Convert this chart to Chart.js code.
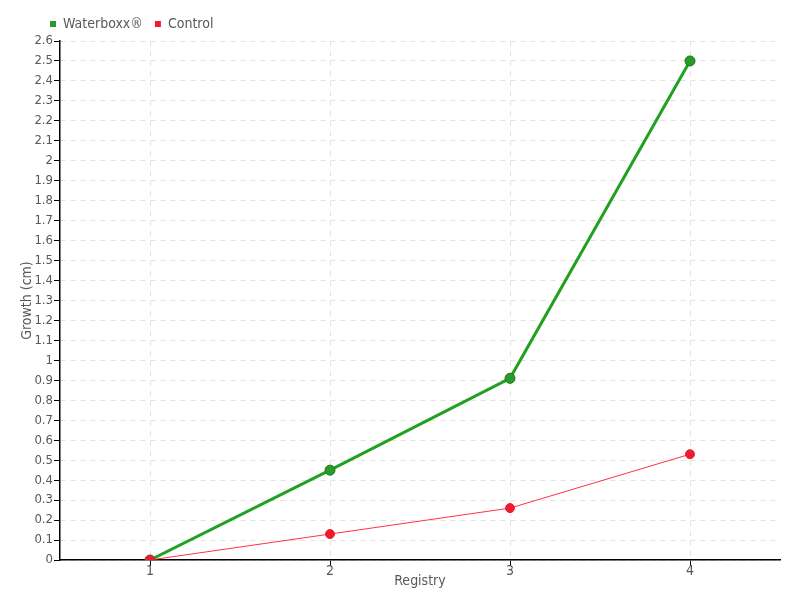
<!DOCTYPE html>
<html>
<head>
<meta charset="utf-8">
<script src="https://cdn.jsdelivr.net/npm/chart.js@4"></script>
<style>
  html, body { margin: 0; padding: 0; background: #fff; }
  #wrap { width: 800px; height: 600px; }
</style>
</head>
<body>
<div id="wrap"><canvas id="growthChart" width="800" height="600"></canvas></div>
<script>
// ── data ──
const registries = ["1", "2", "3", "4"];
const waterboxx = [0, 0.45, 0.91, 2.5];
const control = [0, 0.13, 0.26, 0.53];

const FONT = "'DejaVu Sans Condensed', 'DejaVu Sans', sans-serif";
const TXT = "#585858";

Chart.defaults.font.family = FONT;
Chart.defaults.color = TXT;

new Chart(document.getElementById("growthChart"), {
  type: "line",
  data: {
    labels: registries,
    datasets: [
      {
        label: "Waterboxx®",
        data: waterboxx,
        borderColor: "#22a022",
        backgroundColor: "#2a9a2a",
        borderWidth: 3,
        pointRadius: 5,
        pointBackgroundColor: "#2a9a2a",
        pointBorderColor: "#1b7a1b",
        pointBorderWidth: 1,
        tension: 0,
        order: 1,
      },
      {
        label: "Control",
        data: control,
        borderColor: "#ff3344",
        backgroundColor: "#ee1c2e",
        borderWidth: 1,
        pointRadius: 4.5,
        pointBackgroundColor: "#ee1c2e",
        pointBorderColor: "#ee1c2e",
        pointBorderWidth: 1,
        tension: 0,
        order: 0,
      },
    ]
  },
  options: {
    responsive: false,
    animation: false,
    layout: { padding: { left: 0, right: 20, top: 5, bottom: 0 } },
    plugins: {
      legend: {
        position: "top",
        align: "start",
        labels: {
          sort: (a, b) => a.datasetIndex - b.datasetIndex,
          boxWidth: 6,
          boxHeight: 6,
          padding: 12,
          color: TXT,
          font: { family: FONT, size: 14 },
          generateLabels: chart => chart.data.datasets.map((ds, i) => ({
            text: ds.label,
            fillStyle: ds.pointBackgroundColor,
            strokeStyle: ds.pointBackgroundColor,
            lineWidth: 0,
            datasetIndex: i,
            fontColor: TXT,
          })),
        }
      },
      tooltip: { enabled: false }
    },
    scales: {
      x: {
        offset: true,
        afterFit: scale => { scale.height = 40; },
        title: {
          display: true, text: "Registry", color: TXT,
          font: { family: FONT, size: 14 }, padding: { top: 0, bottom: 10 }
        },
        border: { color: "#000", width: 1.5, dash: [5, 5] },
        grid: {
          offset: false,
          color: "#e2e2e2",
          tickColor: "#000",
          tickLength: 6,
          tickBorderDash: [],
        },
        ticks: { color: TXT, font: { family: FONT, size: 14 }, padding: -3 },
      },
      y: {
        min: 0,
        max: 2.6,
        afterFit: scale => { scale.width = 60; },
        title: {
          display: true, text: "Growth (cm)", color: TXT,
          font: { family: FONT, size: 14 }, padding: { top: 19, bottom: 0 }
        },
        border: { color: "#000", width: 1.5, dash: [5, 5] },
        grid: {
          color: "#e2e2e2",
          tickColor: "#000",
          tickLength: 6,
          tickBorderDash: [],
        },
        ticks: {
          stepSize: 0.1,
          color: TXT,
          font: { family: FONT, size: 13 },
          padding: 1,
          callback: v => String(Math.round(v * 10) / 10),
        },
      }
    }
  },
  plugins: [{
    id: "legendShift",
    afterLayout(chart) {
      if (chart.legend) chart.legend.left = 38;
    }
  }]
});
</script>
</body>
</html>
